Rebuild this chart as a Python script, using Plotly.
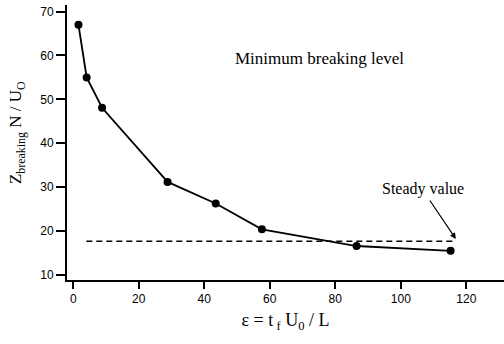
import plotly.graph_objects as go

eps = [1.6, 4.1, 8.8, 28.8, 43.5, 57.6, 86.5, 115.2]
zb = [67.0, 55.0, 48.1, 31.2, 26.3, 20.4, 16.6, 15.5]
steady_x = [4, 116.5]
steady_y = [17.7, 17.7]
xticks = [0, 20, 40, 60, 80, 100, 120]
yticks = [10, 20, 30, 40, 50, 60, 70]

fig = go.Figure()
fig.add_trace(go.Scatter(x=steady_x, y=steady_y, mode="lines",
                         line=dict(color="black", width=1.5, dash="6px,4px"),
                         showlegend=False, hoverinfo="skip"))
fig.add_trace(go.Scatter(x=eps, y=zb, mode="lines+markers",
                         line=dict(color="black", width=1.8),
                         marker=dict(color="black", size=8),
                         showlegend=False))

fig.add_annotation(x=75.3, y=59.3, text="Minimum breaking level", showarrow=False,
                   font=dict(family="Liberation Serif", size=17, color="black"))
fig.add_annotation(x=106.7, y=29.6, text="Steady value", showarrow=False,
                   font=dict(family="Liberation Serif", size=16, color="black"))
fig.add_annotation(x=116.8, y=18.2, ax=-27, ay=-40, text="", showarrow=True,
                   arrowhead=2, arrowsize=1, arrowwidth=1.2, arrowcolor="black")
fig.add_annotation(xref="paper", yref="paper", x=-0.114, y=0.535,
                   text="Z<sub>breaking</sub> N / U<sub>O</sub>", textangle=-90,
                   showarrow=False, xanchor="center", yanchor="middle",
                   font=dict(family="Liberation Serif", size=17, color="black"))

fig.update_xaxes(range=[-1.9, 131.5], tickvals=xticks, ticks="outside", ticklen=7,
                 tickwidth=1.5, tickcolor="black", showline=True, linecolor="black",
                 linewidth=2, showgrid=False, zeroline=False,
                 tickfont=dict(family="Liberation Sans", size=12, color="black"),
                 title=dict(text="ε = t<sub> f</sub> U<sub>0</sub> / L",
                            font=dict(family="Liberation Serif", size=18, color="black"),
                            standoff=8))
fig.update_yaxes(range=[8.86, 71.5], tickvals=yticks, ticks="outside", ticklen=9,
                 tickwidth=1.5, tickcolor="black", showline=True, linecolor="black",
                 linewidth=2, showgrid=False, zeroline=False,
                 tickfont=dict(family="Liberation Sans", size=12, color="black"))

fig.update_layout(width=504, height=344, margin=dict(l=67, r=0, t=5, b=64),
                  plot_bgcolor="white", paper_bgcolor="white")
fig.write_html("out.html")
